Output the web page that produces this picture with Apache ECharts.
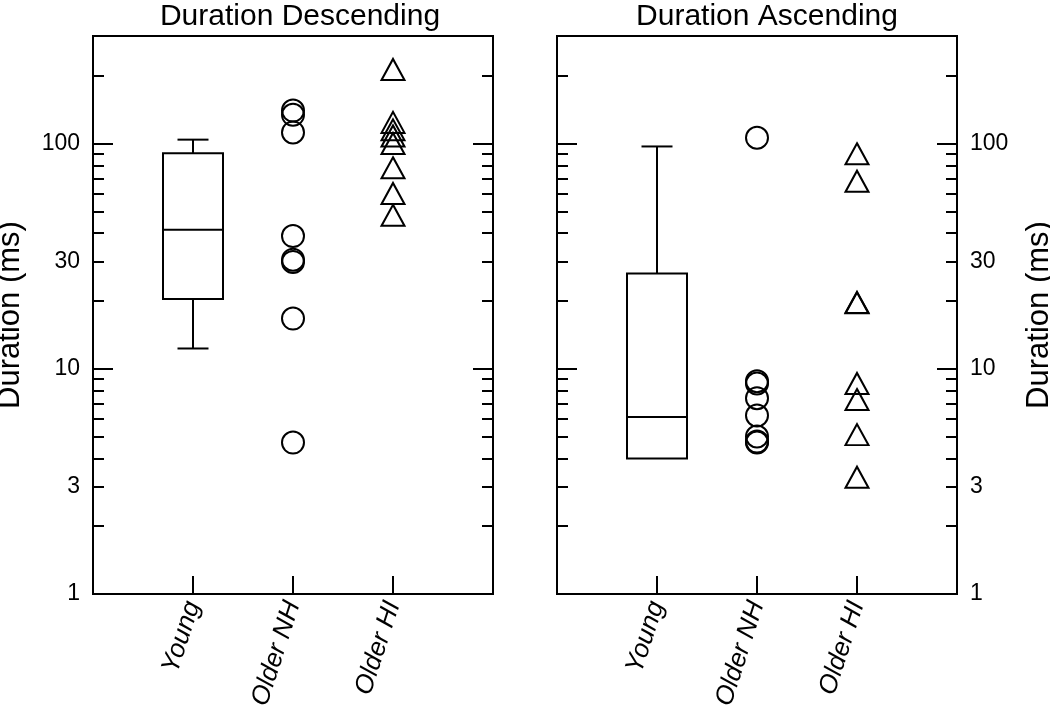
<!DOCTYPE html>
<html>
<head>
<meta charset="utf-8">
<script src="https://cdn.jsdelivr.net/npm/echarts@6/dist/echarts.min.js"></script>
<style>
html,body{margin:0;padding:0;background:#fff;}
#chart{width:1050px;height:712px;}
</style>
</head>
<body>
<div id="chart"></div>
<script>
// ---- data ----
const categories = ['Young', 'Older NH', 'Older HI'];
const panelTitles = ['Duration Descending', 'Duration Ascending'];
const yAxisName = 'Duration (ms)';
const yLabelValues = [1, 3, 10, 30, 100];
const yMinorTicks = [2, 3, 4, 5, 6, 7, 8, 9, 20, 30, 40, 50, 60, 70, 80, 90, 200, 300];
const yMajorTicks = [1, 10, 100];
// box: [min, Q1, median, Q3, max]
const youngDesc = [12.3, 20.4, 41.4, 90.6, 104];
const olderNHDesc = [140, 134, 112, 38.8, 30.5, 29.8, 16.7, 4.7];
const olderHIDesc = [213, 124, 115, 108, 100, 78, 60, 48];
const youngAsc = [4.0, 4.0, 6.1, 26.5, 97];
const olderNHAsc = [106, 8.8, 8.6, 7.4, 6.2, 5.0, 4.75, 4.7];
const olderHIAsc = [90, 68, 19.7, 19.6, 8.6, 7.3, 5.1, 3.3];

const FONT = 'Liberation Sans, Arial, Helvetica, sans-serif';
const INK = '#000';

const grids = [
  {left: 93, top: 36, width: 400, height: 558, show: true, borderColor: INK, borderWidth: 2,
    containLabel: false, outerBoundsMode: 'none'},
  {left: 557, top: 36, width: 400, height: 558, show: true, borderColor: INK, borderWidth: 2,
    containLabel: false, outerBoundsMode: 'none'}
];

function xAxisFor(gi) {
  return {
    type: 'value', gridIndex: gi, min: 0, max: 4, interval: 1,
    axisLine: {show: false}, splitLine: {show: false},
    axisTick: {show: true, inside: true, length: 18, customValues: [1, 2, 3], lineStyle: {color: INK, width: 2}},
    axisLabel: {
      customValues: [1, 2, 3], rotate: 72, margin: 8, fontSize: 26, fontStyle: 'italic',
      fontFamily: FONT, color: INK,
      formatter: v => categories[Math.round(v) - 1] || ''
    }
  };
}
function yAxisFor(gi, pos, major, showLabel, showName) {
  const ax = {
    type: 'log', logBase: 10, gridIndex: gi, position: pos, min: 1, max: 300,
    axisLine: {show: false}, splitLine: {show: false}, minorTick: {show: false},
    axisTick: {show: true, inside: true, length: major ? 20 : 11,
      customValues: major ? yMajorTicks : yMinorTicks, lineStyle: {color: INK, width: 2}},
    axisLabel: {show: showLabel, customValues: yLabelValues, fontSize: 23, margin: 13,
      fontFamily: FONT, color: INK, formatter: v => String(Math.round(v))}
  };
  if (showName) {
    ax.name = yAxisName;
    ax.nameLocation = 'middle';
    ax.nameGap = 67;
    ax.nameTextStyle = {fontSize: 31, fontFamily: FONT, color: INK};
  }
  return ax;
}

const yAxes = [
  yAxisFor(0, 'left', false, true, true),
  yAxisFor(0, 'left', true, false, false),
  yAxisFor(0, 'right', false, false, false),
  yAxisFor(0, 'right', true, false, false),
  yAxisFor(1, 'left', false, false, false),
  yAxisFor(1, 'left', true, false, false),
  yAxisFor(1, 'right', false, true, true),
  yAxisFor(1, 'right', true, false, false)
];

function boxRender(params, api) {
  const x = api.value(0);
  const mn = api.value(1), q1 = api.value(2), md = api.value(3), q3 = api.value(4), mx = api.value(5);
  const bl = api.coord([x - 0.3, q1]), br = api.coord([x + 0.3, q1]);
  const top = api.coord([x, q3]);
  const cl = api.coord([x - 0.155, mx]), cr = api.coord([x + 0.155, mx]);
  const ml = api.coord([x - 0.3, md]), mr = api.coord([x + 0.3, md]);
  const pMin = api.coord([x, mn]);
  const lcl = api.coord([x - 0.155, mn]), lcr = api.coord([x + 0.155, mn]);
  const st = {stroke: INK, lineWidth: 2, fill: null};
  const children = [
    {type: 'rect', shape: {x: bl[0], y: top[1], width: br[0] - bl[0], height: bl[1] - top[1]}, style: st},
    {type: 'line', shape: {x1: ml[0], y1: ml[1], x2: mr[0], y2: mr[1]}, style: st},
    {type: 'line', shape: {x1: top[0], y1: top[1], x2: top[0], y2: cl[1]}, style: st},
    {type: 'line', shape: {x1: cl[0], y1: cl[1], x2: cr[0], y2: cr[1]}, style: st}
  ];
  if (Math.abs(pMin[1] - bl[1]) > 0.5) {
    children.push({type: 'line', shape: {x1: pMin[0], y1: bl[1], x2: pMin[0], y2: pMin[1]}, style: st});
    children.push({type: 'line', shape: {x1: lcl[0], y1: lcl[1], x2: lcr[0], y2: lcr[1]}, style: st});
  }
  return {type: 'group', children};
}

function boxSeries(gi, yi, vals) {
  return {
    type: 'custom', xAxisIndex: gi, yAxisIndex: yi, renderItem: boxRender,
    encode: {x: 0, y: [1, 2, 3, 4, 5]}, data: [[1].concat(vals)], silent: true, z: 3
  };
}
function pointSeries(gi, yi, xPos, vals, symbol) {
  return {
    type: 'scatter', xAxisIndex: gi, yAxisIndex: yi,
    symbol: symbol, symbolSize: symbol === 'circle' ? 22 : [23, 21],
    itemStyle: {color: 'rgba(255,255,255,0)', borderColor: INK, borderWidth: 2, opacity: 1},
    data: vals.map(v => [xPos, v]), silent: true, z: 4
  };
}

const option = {
  backgroundColor: '#fff',
  animation: false,
  title: [
    {text: panelTitles[0], left: 295, top: -3, textAlign: 'center',
      textStyle: {fontSize: 30, fontWeight: 'normal', fontFamily: FONT, color: INK}},
    {text: panelTitles[1], left: 762, top: -3, textAlign: 'center',
      textStyle: {fontSize: 30, fontWeight: 'normal', fontFamily: FONT, color: INK}}
  ],
  grid: grids,
  xAxis: [xAxisFor(0), xAxisFor(1)],
  yAxis: yAxes,
  series: [
    boxSeries(0, 0, youngDesc),
    pointSeries(0, 0, 2, olderNHDesc, 'circle'),
    pointSeries(0, 0, 3, olderHIDesc, 'triangle'),
    boxSeries(1, 4, youngAsc),
    pointSeries(1, 4, 2, olderNHAsc, 'circle'),
    pointSeries(1, 4, 3, olderHIAsc, 'triangle')
  ]
};

const chart = echarts.init(document.getElementById('chart'), null, {renderer: 'canvas'});
chart.setOption(option);
</script>
</body>
</html>
